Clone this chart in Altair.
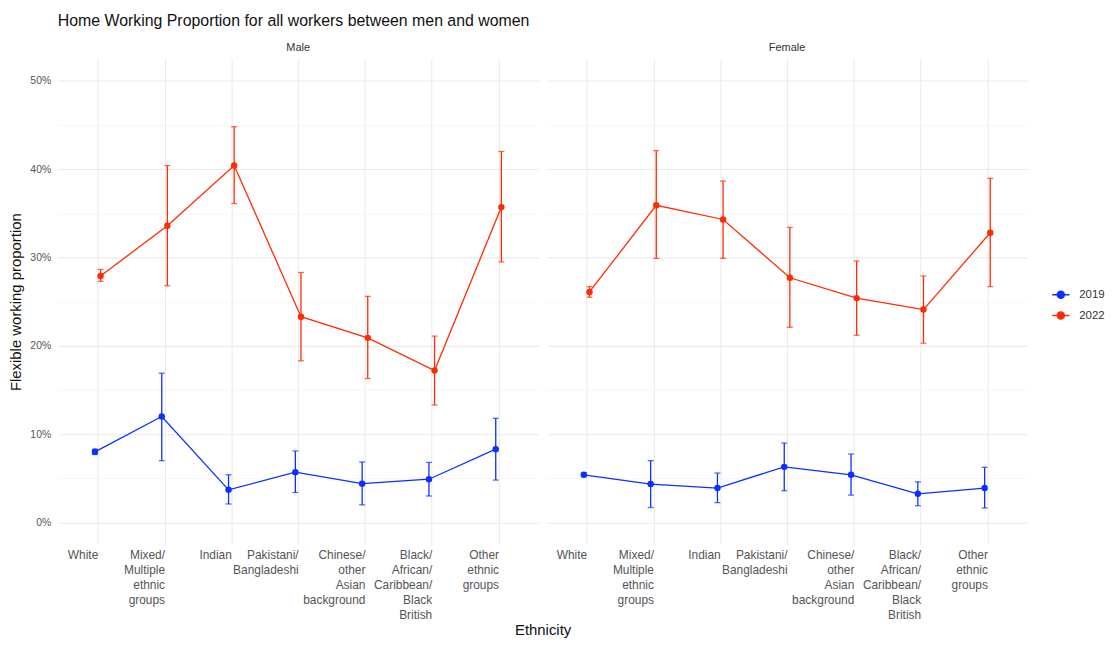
import json
import pandas as pd
import altair as alt

categories = ["White", "Mixed/Multiple ethnic groups", "Indian", "Pakistani/Bangladeshi",
              "Chinese/other Asian background", "Black/African/Caribbean/Black British",
              "Other ethnic groups"]
tick_labels = [["White"], ["Mixed/", "Multiple", "ethnic", "groups"], ["Indian"],
               ["Pakistani/", "Bangladeshi"], ["Chinese/", "other", "Asian", "background"],
               ["Black/", "African/", "Caribbean/", "Black", "British"],
               ["Other", "ethnic", "groups"]]
sexes = ["Male", "Female"]
years = ["2019", "2022"]

# values in percent
male_2019 = [8.0, 12.0, 3.7, 5.7, 4.4, 4.9, 8.3]
male_2019_lo = [7.7, 7.0, 2.1, 3.4, 2.0, 3.0, 4.8]
male_2019_hi = [8.3, 16.9, 5.4, 8.1, 6.85, 6.8, 11.8]
male_2022 = [27.9, 33.6, 40.4, 23.3, 20.9, 17.2, 35.7]
male_2022_lo = [27.3, 26.8, 36.1, 18.3, 16.3, 13.3, 29.5]
male_2022_hi = [28.65, 40.4, 44.8, 28.3, 25.6, 21.1, 42.0]
female_2019 = [5.4, 4.35, 3.9, 6.3, 5.4, 3.25, 3.9]
female_2019_lo = [5.2, 1.7, 2.25, 3.6, 3.1, 1.9, 1.65]
female_2019_hi = [5.6, 7.0, 5.6, 9.0, 7.75, 4.6, 6.25]
female_2022 = [26.1, 35.9, 34.3, 27.7, 25.4, 24.1, 32.8]
female_2022_lo = [25.5, 29.9, 29.9, 22.1, 21.2, 20.3, 26.7]
female_2022_hi = [26.7, 42.1, 38.65, 33.4, 29.6, 27.9, 38.95]

series = {
    ("Male", "2019"): (male_2019, male_2019_lo, male_2019_hi),
    ("Male", "2022"): (male_2022, male_2022_lo, male_2022_hi),
    ("Female", "2019"): (female_2019, female_2019_lo, female_2019_hi),
    ("Female", "2022"): (female_2022, female_2022_lo, female_2022_hi),
}
dodge = {"2019": -0.042, "2022": 0.042}

rows = []
for (sex, year), (vals, los, his) in series.items():
    for i, cat in enumerate(categories):
        rows.append(dict(sex=sex, year=year, cat=cat, x=i + dodge[year],
                         value=vals[i] / 100, lo=los[i] / 100, hi=his[i] / 100))
df = pd.DataFrame(rows)

BLUE = "#0b30ff"
RED = "#ff2b05"
FONT = "Liberation Sans"
LABEL_EXPR = json.dumps(tick_labels) + "[round(datum.value)]"
SYMBOL = "M-1,0L1,0M-0.4,0A0.4,0.4,0,1,1,0.4,0A0.4,0.4,0,1,1,-0.4,0Z"

color = alt.Color(
    "year:N",
    scale=alt.Scale(domain=years, range=[BLUE, RED]),
    legend=alt.Legend(title=None, orient="none", legendX=1000, legendY=228,
                      symbolType=SYMBOL, symbolSize=300, symbolStrokeWidth=1.6,
                      symbolOpacity=1, labelFontSize=11.5, labelColor="#333", rowPadding=4,
                      labelOffset=9, labelFont=FONT),
)

yscale = alt.Scale(domain=[-0.025, 0.525], nice=False, zero=False)
xscale = alt.Scale(domain=[-0.6, 6.6], nice=False, zero=False)
grid_major = "round(datum.value*20) % 2 == 0"


def panel(sex, first):
    d = df[df.sex == sex]
    base = alt.Chart(d)
    xkw = dict(values=list(range(7)), labelExpr=LABEL_EXPR, grid=True, gridColor="#ebebeb",
               gridWidth=1, domain=False, ticks=False, labelAlign="right",
               labelBaseline="top", labelPadding=5, labelFontSize=12, labelColor="#555",
               labelLineHeight=15, labelOverlap=False, labelFlush=False, labelFont=FONT)
    ykw = dict(values=[i * 0.05 for i in range(11)], format=".0%",
               labelExpr=f"{grid_major} ? datum.label : ''",
               grid=True,
               gridColor={"condition": {"test": grid_major, "value": "#ebebeb"}, "value": "#f4f4f4"},
               gridWidth={"condition": {"test": grid_major, "value": 1.1}, "value": 0.7},
               domain=False, ticks=False)
    if first:
        xkw.update(title="Ethnicity", titleX=488, titleY=78, titleFontSize=15,
                   titleFontWeight="normal", titleColor="#111", titleFont=FONT)
        ykw.update(title="Flexible working proportion", labelFontSize=10.5, labelColor="#555",
                   labelPadding=7, titleFontSize=15, titleFontWeight="normal",
                   titleColor="#111", titlePadding=6, titleFont=FONT, labelFont=FONT)
    else:
        xkw.update(title=None)
        ykw.update(title=None, labels=False, minExtent=0, maxExtent=0, labelPadding=0)
    xs = alt.X("x:Q", scale=xscale, axis=alt.Axis(**xkw))

    def Y(field):
        return alt.Y(f"{field}:Q", scale=yscale, axis=alt.Axis(**ykw))

    line = base.mark_line(strokeWidth=1.3).encode(x=xs, y=Y("value"), color=color)
    rule = base.mark_rule(strokeWidth=1.3).encode(x=xs, y=Y("lo"), y2="hi:Q", color=color)
    tlo = base.mark_tick(orient="horizontal", size=6, thickness=1.3).encode(x=xs, y=Y("lo"), color=color)
    thi = base.mark_tick(orient="horizontal", size=6, thickness=1.3).encode(x=xs, y=Y("hi"), color=color)
    pts = base.mark_point(filled=True, size=42, opacity=1).encode(x=xs, y=Y("value"), color=color)
    return alt.layer(line, rule, tlo, thi, pts).properties(
        width=484, height=489,
        title=alt.TitleParams(sex, fontSize=11, fontWeight="normal", color="#333",
                              offset=6, font=FONT),
        view=alt.ViewBackground(strokeWidth=0, stroke="transparent"),
    )


chart = alt.hconcat(panel("Male", True), panel("Female", False), spacing=8,
                    bounds="flush").properties(
    title=alt.TitleParams("Home Working Proportion for all workers between men and women",
                          anchor="start", fontSize=16, fontWeight="normal", color="#111",
                          font=FONT, offset=13, frame="group"),
    padding={"left": 0, "top": 3, "right": 5, "bottom": 0},
).configure_view(strokeWidth=0, stroke="transparent").configure(font=FONT)

chart.save("out.html", embed_options={"renderer": "svg", "actions": False})
